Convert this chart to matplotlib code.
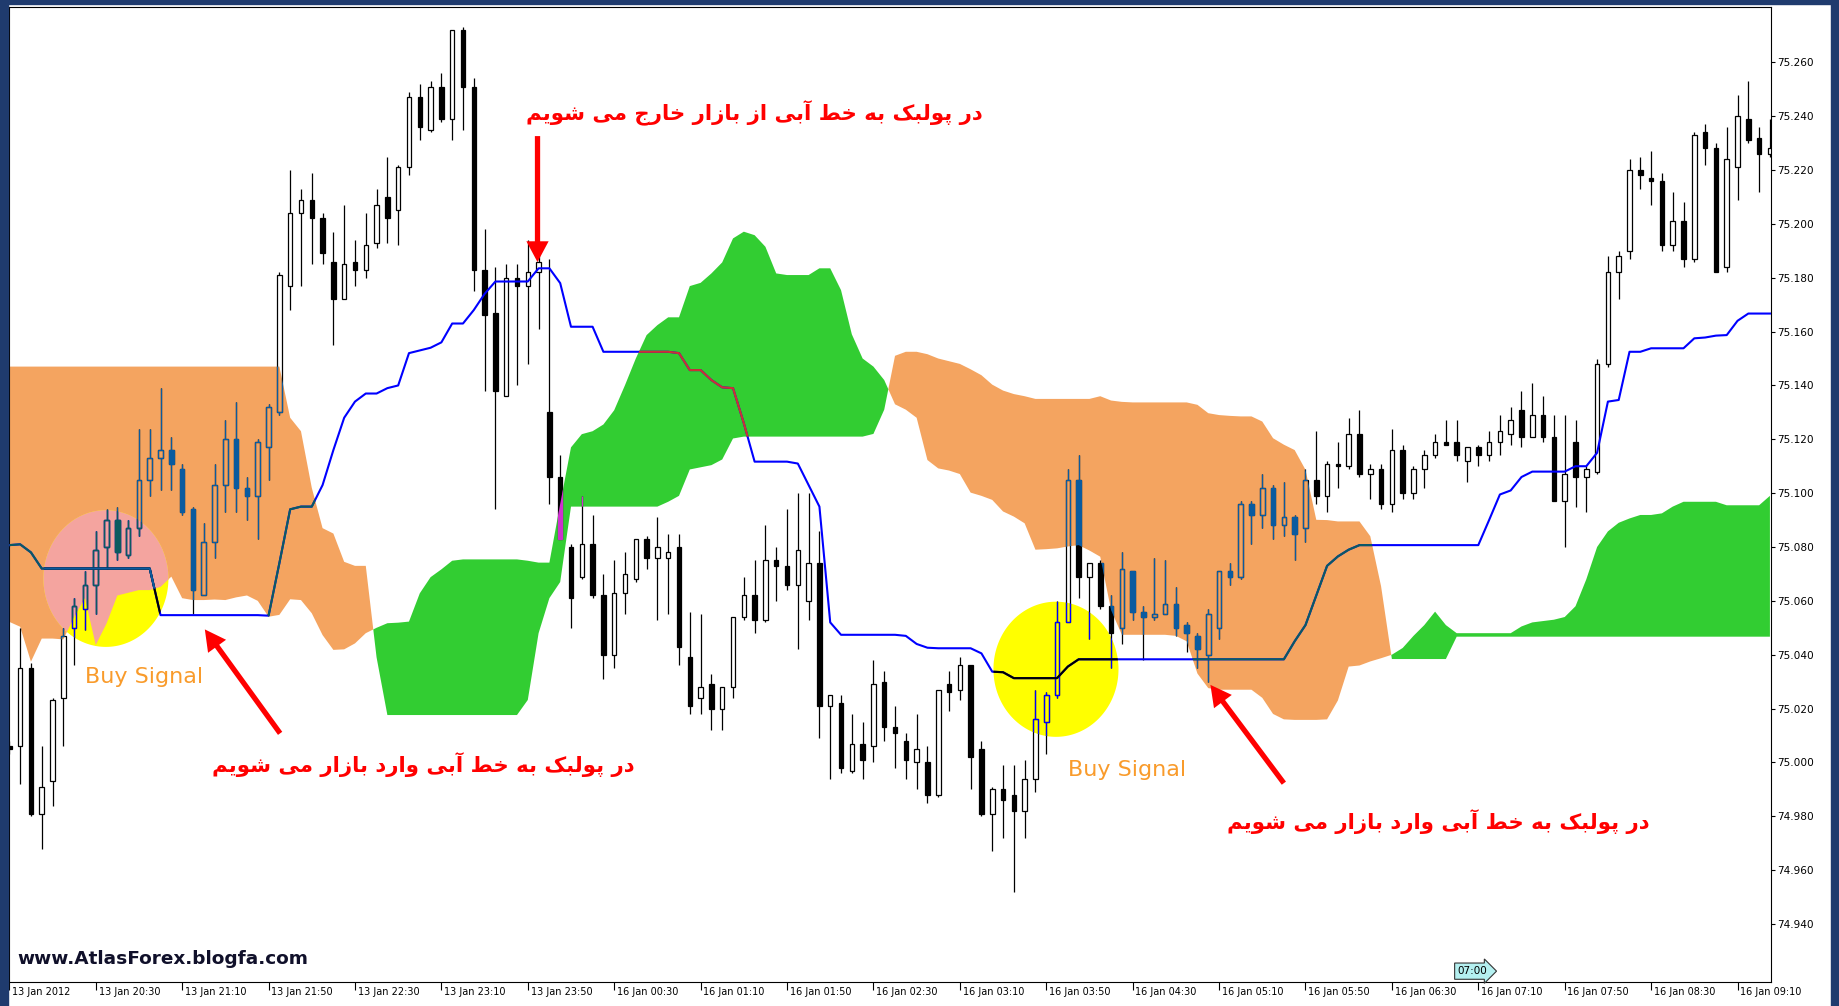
import numpy as np
import matplotlib
matplotlib.use("Agg")
import matplotlib.pyplot as plt
from matplotlib.path import Path
from matplotlib.patches import PathPatch, Rectangle, FancyArrowPatch
from matplotlib.transforms import ScaledTranslation, blended_transform_factory

plt.rcParams["font.family"] = ["DejaVu Sans"]

# M5 bars, 13 Jan 2012 19:50 -> 16 Jan 2012 09:25
OPEN = [
    75.006, 75.006, 75.035, 74.981, 74.993, 75.024, 75.050, 75.057, 75.066, 75.080,
    75.090, 75.077, 75.087, 75.105, 75.113, 75.116, 75.109, 75.094, 75.062, 75.082,
    75.103, 75.120, 75.102, 75.099, 75.117, 75.130, 75.177, 75.204, 75.209, 75.202,
    75.186, 75.172, 75.186, 75.183, 75.193, 75.210, 75.205, 75.221, 75.247, 75.235,
    75.251, 75.239, 75.272, 75.251, 75.183, 75.167, 75.136, 75.180, 75.177, 75.182,
    75.130, 75.106, 75.080, 75.069, 75.081, 75.062, 75.040, 75.063, 75.068, 75.083,
    75.076, 75.076, 75.080, 75.039, 75.024, 75.029, 75.020, 75.028, 75.054, 75.062,
    75.053, 75.075, 75.073, 75.066, 75.060, 75.074, 75.021, 75.022, 74.997, 75.007,
    75.006, 75.030, 75.013, 75.008, 75.000, 75.000, 74.988, 75.029, 75.027, 75.036,
    75.005, 74.981, 74.990, 74.988, 74.982, 74.994, 75.015, 75.025, 75.052, 75.105,
    75.069, 75.074, 75.058, 75.050, 75.071, 75.056, 75.054, 75.055, 75.059, 75.051,
    75.047, 75.040, 75.050, 75.071, 75.069, 75.096, 75.092, 75.102, 75.088, 75.091,
    75.087, 75.105, 75.099, 75.111, 75.110, 75.122, 75.107, 75.109, 75.096, 75.116,
    75.100, 75.109, 75.114, 75.119, 75.119, 75.112, 75.117, 75.114, 75.119, 75.122,
    75.131, 75.121, 75.129, 75.121, 75.097, 75.119, 75.106, 75.108, 75.148, 75.182,
    75.190, 75.220, 75.217, 75.216, 75.192, 75.201, 75.187, 75.234, 75.228, 75.184,
    75.221, 75.239, 75.232, 75.226,
]
HIGH = [
    75.008, 75.050, 75.037, 75.006, 75.024, 75.050, 75.061, 75.071, 75.086, 75.094,
    75.095, 75.090, 75.124, 75.124, 75.139, 75.121, 75.111, 75.095, 75.089, 75.111,
    75.127, 75.134, 75.106, 75.120, 75.133, 75.182, 75.220, 75.213, 75.219, 75.204,
    75.197, 75.207, 75.194, 75.204, 75.213, 75.225, 75.222, 75.249, 75.252, 75.253,
    75.256, 75.272, 75.273, 75.254, 75.198, 75.184, 75.185, 75.185, 75.194, 75.193,
    75.187, 75.114, 75.081, 75.099, 75.092, 75.070, 75.075, 75.078, 75.083, 75.084,
    75.091, 75.085, 75.085, 75.056, 75.055, 75.033, 75.028, 75.054, 75.069, 75.075,
    75.088, 75.080, 75.094, 75.100, 75.100, 75.086, 75.025, 75.025, 75.018, 75.015,
    75.038, 75.034, 75.021, 75.011, 75.018, 75.006, 75.027, 75.034, 75.039, 75.036,
    75.008, 74.991, 74.999, 74.999, 75.001, 75.027, 75.026, 75.060, 75.109, 75.114,
    75.074, 75.075, 75.062, 75.078, 75.071, 75.058, 75.076, 75.075, 75.065, 75.052,
    75.048, 75.057, 75.071, 75.074, 75.097, 75.097, 75.107, 75.103, 75.104, 75.092,
    75.109, 75.123, 75.112, 75.119, 75.128, 75.131, 75.111, 75.111, 75.124, 75.118,
    75.110, 75.116, 75.122, 75.127, 75.127, 75.117, 75.118, 75.123, 75.129, 75.132,
    75.138, 75.141, 75.136, 75.129, 75.129, 75.127, 75.110, 75.150, 75.188, 75.190,
    75.224, 75.225, 75.227, 75.219, 75.212, 75.208, 75.234, 75.237, 75.230, 75.236,
    75.248, 75.253, 75.236, 75.239,
]
LOW = [
    75.003, 74.992, 74.980, 74.968, 74.984, 75.006, 75.036, 75.049, 75.055, 75.072,
    75.075, 75.076, 75.084, 75.099, 75.101, 75.101, 75.092, 75.055, 75.062, 75.076,
    75.093, 75.093, 75.090, 75.083, 75.105, 75.129, 75.168, 75.177, 75.185, 75.185,
    75.155, 75.172, 75.177, 75.180, 75.191, 75.193, 75.192, 75.218, 75.231, 75.234,
    75.238, 75.231, 75.235, 75.175, 75.138, 75.094, 75.136, 75.140, 75.148, 75.161,
    75.096, 75.083, 75.050, 75.068, 75.061, 75.031, 75.035, 75.055, 75.067, 75.072,
    75.053, 75.055, 75.036, 75.018, 75.018, 75.012, 75.012, 75.024, 75.053, 75.048,
    75.052, 75.060, 75.064, 75.042, 75.053, 75.009, 74.994, 74.996, 74.996, 74.994,
    75.000, 75.008, 74.998, 74.994, 74.990, 74.985, 74.987, 75.019, 75.023, 74.990,
    74.980, 74.967, 74.972, 74.952, 74.972, 74.989, 75.003, 75.024, 75.052, 75.061,
    75.046, 75.057, 75.035, 75.044, 75.053, 75.038, 75.053, 75.055, 75.047, 75.041,
    75.035, 75.030, 75.046, 75.066, 75.068, 75.081, 75.087, 75.083, 75.084, 75.075,
    75.082, 75.096, 75.093, 75.102, 75.109, 75.106, 75.098, 75.094, 75.093, 75.098,
    75.098, 75.102, 75.113, 75.118, 75.112, 75.104, 75.110, 75.112, 75.114, 75.118,
    75.117, 75.121, 75.119, 75.097, 75.080, 75.095, 75.093, 75.107, 75.147, 75.172,
    75.187, 75.213, 75.207, 75.190, 75.190, 75.184, 75.186, 75.222, 75.182, 75.182,
    75.209, 75.230, 75.212, 75.225,
]
CLOSE = [
    75.005, 75.035, 74.981, 74.991, 75.023, 75.047, 75.058, 75.066, 75.079, 75.090,
    75.078, 75.087, 75.105, 75.113, 75.116, 75.111, 75.093, 75.064, 75.082, 75.103,
    75.120, 75.102, 75.099, 75.119, 75.132, 75.181, 75.204, 75.209, 75.202, 75.189,
    75.172, 75.185, 75.183, 75.192, 75.207, 75.202, 75.221, 75.247, 75.236, 75.251,
    75.239, 75.272, 75.251, 75.183, 75.166, 75.138, 75.180, 75.177, 75.182, 75.186,
    75.106, 75.083, 75.061, 75.081, 75.062, 75.040, 75.063, 75.070, 75.083, 75.076,
    75.080, 75.078, 75.043, 75.021, 75.028, 75.020, 75.028, 75.054, 75.062, 75.053,
    75.075, 75.073, 75.066, 75.079, 75.074, 75.021, 75.025, 74.998, 75.007, 75.001,
    75.029, 75.013, 75.011, 75.001, 75.005, 74.988, 75.027, 75.026, 75.036, 75.002,
    74.981, 74.990, 74.986, 74.982, 74.994, 75.016, 75.025, 75.052, 75.105, 75.069,
    75.074, 75.058, 75.048, 75.072, 75.056, 75.054, 75.055, 75.059, 75.050, 75.048,
    75.042, 75.055, 75.071, 75.069, 75.096, 75.092, 75.102, 75.088, 75.091, 75.085,
    75.105, 75.099, 75.111, 75.110, 75.122, 75.107, 75.109, 75.096, 75.116, 75.100,
    75.109, 75.114, 75.119, 75.118, 75.114, 75.117, 75.114, 75.119, 75.123, 75.127,
    75.121, 75.129, 75.121, 75.097, 75.107, 75.106, 75.109, 75.148, 75.182, 75.188,
    75.220, 75.218, 75.216, 75.192, 75.201, 75.187, 75.233, 75.228, 75.182, 75.224,
    75.240, 75.231, 75.226, 75.228,
]
KIJUN = [
    75.0807, 75.081, 75.078, 75.072, 75.072, 75.072, 75.072, 75.072, 75.072, 75.072,
    75.072, 75.072, 75.072, 75.072, 75.0547, 75.0547, 75.0547, 75.0547, 75.0547, 75.0547,
    75.0547, 75.0547, 75.0547, 75.0547, 75.0545, 75.074, 75.094, 75.095, 75.095, 75.103,
    75.116, 75.128, 75.134, 75.137, 75.137, 75.139, 75.140, 75.152, 75.153, 75.154,
    75.156, 75.163, 75.163, 75.168, 75.174, 75.1786, 75.1786, 75.1786, 75.1786, 75.1835,
    75.1835, 75.178, 75.1618, 75.1618, 75.1618, 75.1525, 75.1525, 75.1525, 75.1525, 75.1525,
    75.1525, 75.1525, 75.152, 75.1457, 75.1457, 75.142, 75.1393, 75.139, 75.126, 75.1117,
    75.1117, 75.1117, 75.1117, 75.111, 75.103, 75.095, 75.052, 75.0474, 75.0474, 75.0474,
    75.0474, 75.0474, 75.0474, 75.047, 75.044, 75.0426, 75.0424, 75.0424, 75.0424, 75.0424,
    75.0405, 75.0337, 75.0335, 75.0313, 75.0313, 75.0313, 75.0313, 75.0313, 75.0356, 75.0383,
    75.0383, 75.0383, 75.0383, 75.0383, 75.0383, 75.0383, 75.0383, 75.0383, 75.0383, 75.0383,
    75.0383, 75.0383, 75.0383, 75.0383, 75.0383, 75.0383, 75.0383, 75.0383, 75.0383, 75.045,
    75.051, 75.062, 75.073, 75.0765, 75.079, 75.0807, 75.0807, 75.0807, 75.0807, 75.0807,
    75.0807, 75.0807, 75.0807, 75.0807, 75.0807, 75.0807, 75.0807, 75.090, 75.0995, 75.101,
    75.106, 75.108, 75.108, 75.108, 75.108, 75.110, 75.110, 75.115, 75.134, 75.1346,
    75.1525, 75.1525, 75.1538, 75.1538, 75.1538, 75.1538, 75.1575, 75.1578, 75.1585, 75.1587,
    75.164, 75.1667, 75.1667, 75.1667,
]
SPAN_A = [
    75.147, 75.147, 75.147, 75.147, 75.147, 75.147, 75.147, 75.147, 75.147, 75.147,
    75.147, 75.147, 75.147, 75.147, 75.147, 75.147, 75.147, 75.147, 75.147, 75.147,
    75.147, 75.147, 75.147, 75.147, 75.147, 75.147, 75.128, 75.123, 75.102, 75.087,
    75.085, 75.0745, 75.073, 75.073, 75.039, 75.0176, 75.0176, 75.0176, 75.0176, 75.0176,
    75.0176, 75.0176, 75.0176, 75.0176, 75.0176, 75.0176, 75.0176, 75.0176, 75.0232, 75.048,
    75.061, 75.067, 75.095, 75.095, 75.095, 75.095, 75.095, 75.095, 75.095, 75.095,
    75.095, 75.0968, 75.099, 75.1088, 75.1096, 75.1104, 75.1125, 75.1203, 75.121, 75.121,
    75.121, 75.121, 75.121, 75.121, 75.121, 75.121, 75.121, 75.121, 75.121, 75.121,
    75.122, 75.131, 75.151, 75.1525, 75.1525, 75.1516, 75.150, 75.149, 75.148, 75.146,
    75.1438, 75.1403, 75.1381, 75.1368, 75.136, 75.135, 75.135, 75.135, 75.135, 75.135,
    75.135, 75.136, 75.1344, 75.1339, 75.1337, 75.1337, 75.1337, 75.1337, 75.1337, 75.1337,
    75.1328, 75.1297, 75.129, 75.1287, 75.1285, 75.1285, 75.1266, 75.1204, 75.118, 75.116,
    75.1087, 75.0901, 75.090, 75.0895, 75.0895, 75.0895, 75.084, 75.0654, 75.0384, 75.0384,
    75.0384, 75.0384, 75.0384, 75.0384, 75.0467, 75.0467, 75.0467, 75.0467, 75.0467, 75.0467,
    75.0467, 75.0467, 75.0467, 75.0467, 75.0467, 75.0467, 75.0467, 75.0467, 75.0467, 75.0467,
    75.0467, 75.0467, 75.0467, 75.0467, 75.0467, 75.0467, 75.0467, 75.0467, 75.0467, 75.0467,
    75.0467, 75.0467, 75.0467, 75.0467,
]
SPAN_B = [
    75.0522, 75.0504, 75.0374, 75.046, 75.046, 75.0457, 75.054, 75.061, 75.0436, 75.0516,
    75.062, 75.063, 75.064, 75.064, 75.0652, 75.069, 75.061, 75.0603, 75.0603, 75.0605,
    75.0603, 75.0613, 75.062, 75.060, 75.0541, 75.0548, 75.0606, 75.0603, 75.0554, 75.0473,
    75.0418, 75.0420, 75.0442, 75.0480, 75.050, 75.0517, 75.0519, 75.0523, 75.0628, 75.0688,
    75.0717, 75.0749, 75.0754, 75.0754, 75.0754, 75.0754, 75.0754, 75.0754, 75.0749, 75.0742,
    75.0742, 75.096, 75.117, 75.1219, 75.1230, 75.1255, 75.1308, 75.1401, 75.1500, 75.1587,
    75.1624, 75.1653, 75.1653, 75.1769, 75.1781, 75.1816, 75.1857, 75.1946, 75.1971, 75.1958,
    75.1915, 75.1816, 75.1810, 75.1810, 75.1810, 75.1835, 75.1835, 75.1754, 75.159, 75.150,
    75.147, 75.142, 75.133, 75.131, 75.128, 75.1123, 75.1092, 75.1084, 75.1071, 75.1002,
    75.099, 75.0975, 75.0932, 75.0913, 75.0888, 75.079, 75.0792, 75.0795, 75.0802, 75.0807,
    75.0787, 75.0764, 75.0566, 75.0474, 75.0474, 75.0474, 75.0474, 75.0474, 75.047, 75.045,
    75.033, 75.0276, 75.027, 75.027, 75.027, 75.027, 75.024, 75.018, 75.016, 75.0158,
    75.0158, 75.0158, 75.016, 75.023, 75.0356, 75.036, 75.0375, 75.0387, 75.040, 75.0425,
    75.047, 75.051, 75.056, 75.051, 75.048, 75.048, 75.048, 75.048, 75.048, 75.048,
    75.0505, 75.052, 75.0525, 75.053, 75.054, 75.058, 75.068, 75.080, 75.0858, 75.089,
    75.0906, 75.0919, 75.0919, 75.0925, 75.095, 75.0968, 75.0968, 75.0968, 75.0968, 75.0955,
    75.0955, 75.0955, 75.0955, 75.099,
]
XTICK_LABELS = [
    "13 Jan 2012", "13 Jan 20:30", "13 Jan 21:10", "13 Jan 21:50", "13 Jan 22:30",
    "13 Jan 23:10", "13 Jan 23:50", "16 Jan 00:30", "16 Jan 01:10", "16 Jan 01:50",
    "16 Jan 02:30", "16 Jan 03:10", "16 Jan 03:50", "16 Jan 04:30", "16 Jan 05:10",
    "16 Jan 05:50", "16 Jan 06:30", "16 Jan 07:10", "16 Jan 07:50", "16 Jan 08:30",
    "16 Jan 09:10",
]
YTICKS = [74.940, 74.960, 74.980, 75.000, 75.020, 75.040, 75.060, 75.080, 75.100,
          75.120, 75.140, 75.160, 75.180, 75.200, 75.220, 75.240, 75.260]

# annotations (bar index, price)
CIRCLES = [(8.94, 75.0683, 5.79, 0.0254), (96.9, 75.0346, 5.79, 0.0251)]
ARROWS = [((48.9, 75.2326), (48.9, 75.1858)),
          ((25.07, 75.0108), (18.1, 75.0494)),
          ((118.0, 74.9923), (111.2, 75.0288))]
TEXT_EXIT = "در پولبک به خط آبی از بازار خارج می شویم"
TEXT_ENTER = "در پولبک به خط آبی وارد بازار می شویم"

WHITE, BLACK, BLUE = "#ffffff", "#000000", "#0000ff"
ORANGE, GREEN, YELLOW = "#f4a460", "#32cd32", "#ffff00"
NAVY = "#1f3b6e"


def xor_color(bg, c):
    # the terminal paints the cloud in xor mode, colours flip inside it
    b = [int(bg[j:j + 2], 16) for j in (1, 3, 5)]
    v = [int(c[j:j + 2], 16) for j in (1, 3, 5)]
    return "#" + "".join("%02x" % ((255 - p) ^ q) for p, q in zip(b, v))


PINK = xor_color(ORANGE, YELLOW)

FORMS = {
    "\u0627": ("\ufe8d", "\ufe8e", None, None),
    "\u0622": ("\ufe81", "\ufe82", None, None),
    "\u0628": ("\ufe8f", "\ufe90", "\ufe91", "\ufe92"),
    "\u067e": ("\ufb56", "\ufb57", "\ufb58", "\ufb59"),
    "\u062c": ("\ufe9d", "\ufe9e", "\ufe9f", "\ufea0"),
    "\u062e": ("\ufea5", "\ufea6", "\ufea7", "\ufea8"),
    "\u062f": ("\ufea9", "\ufeaa", None, None),
    "\u0631": ("\ufead", "\ufeae", None, None),
    "\u0632": ("\ufeaf", "\ufeb0", None, None),
    "\u0634": ("\ufeb5", "\ufeb6", "\ufeb7", "\ufeb8"),
    "\u0637": ("\ufec1", "\ufec2", "\ufec3", "\ufec4"),
    "\u06a9": ("\ufb8e", "\ufb8f", "\ufb90", "\ufb91"),
    "\u0644": ("\ufedd", "\ufede", "\ufedf", "\ufee0"),
    "\u0645": ("\ufee1", "\ufee2", "\ufee3", "\ufee4"),
    "\u0647": ("\ufee9", "\ufeea", "\ufeeb", "\ufeec"),
    "\u0648": ("\ufeed", "\ufeee", None, None),
    "\u06cc": ("\ufbfc", "\ufbfd", "\ufbfe", "\ufbff"),
}


def shape_fa(s):
    s = s.replace("\u0643", "\u06a9").replace("\u064a", "\u06cc")
    out = []
    for j, ch in enumerate(s):
        if ch not in FORMS:
            out.append(ch)
            continue
        prev = s[j - 1] if j > 0 else ""
        nxt = s[j + 1] if j + 1 < len(s) else ""
        jp = prev in FORMS and FORMS[prev][2] is not None
        jn = FORMS[ch][2] is not None and nxt in FORMS
        iso, fin, ini, med = FORMS[ch]
        out.append(med if jp and jn else fin if jp else ini if jn else iso)
    return "".join(reversed(out))


def clip_to_convex(subject, clipper):
    def side(p, a, b):
        return (b[0] - a[0]) * (p[1] - a[1]) - (b[1] - a[1]) * (p[0] - a[0])

    out = [tuple(v) for v in subject]
    n = len(clipper)
    for k in range(n):
        a, b = clipper[k], clipper[(k + 1) % n]
        inp, out = out, []
        if not inp:
            break
        s = inp[-1]
        for e in inp:
            ds, de = side(s, a, b), side(e, a, b)
            if de >= 0:
                if ds < 0:
                    t = ds / (ds - de)
                    out.append((s[0] + t * (e[0] - s[0]), s[1] + t * (e[1] - s[1])))
                out.append(e)
            elif ds >= 0:
                t = ds / (ds - de)
                out.append((s[0] + t * (e[0] - s[0]), s[1] + t * (e[1] - s[1])))
            s = e
    return out


o, h, l, c = map(np.array, (OPEN, HIGH, LOW, CLOSE))
a_span, b_span = np.array(SPAN_A), np.array(SPAN_B)
x = np.arange(len(OPEN))

fig = plt.figure(figsize=(18.39, 10.06), dpi=100, facecolor="white")
ax = fig.add_axes([8.8 / 1839, 24 / 1006, 1762.2 / 1839, 974.7 / 1006])
ax.set_xlim(-0.05, 163.1)
ax.set_ylim(74.91846, 75.28043)

# Ichimoku cloud
orange = ax.fill_between(x, a_span, b_span, where=a_span >= b_span, interpolate=True,
                         color=ORANGE, lw=0, zorder=1)
green = ax.fill_between(x, a_span, b_span, where=a_span < b_span, interpolate=True,
                        color=GREEN, lw=0, zorder=1)
orange_clip = Path.make_compound_path(*orange.get_paths())
green_clip = Path.make_compound_path(*green.get_paths())

# highlight circles, pink where they fall on the orange cloud
theta = np.linspace(0, 2 * np.pi, 160, endpoint=False)
ellipses = [np.column_stack([cx + rx * np.cos(theta), cy + ry * np.sin(theta)])
            for cx, cy, rx, ry in CIRCLES]
for e in ellipses:
    ax.fill(e[:, 0], e[:, 1], color=YELLOW, lw=0, zorder=1.5)
circle_clip = Path.make_compound_path(
    *[Path(np.vstack([e, e[:1]]), closed=True) for e in ellipses])
pink_paths = []
for p in orange.get_paths():
    for e in ellipses:
        pts = clip_to_convex(p.vertices, [tuple(v) for v in e])
        if len(pts) >= 3:
            pts = np.array(pts)
            pink_paths.append(Path(np.vstack([pts, pts[:1]]), closed=True))
pink_clip = Path.make_compound_path(*pink_paths)
ax.add_patch(PathPatch(pink_clip, facecolor=PINK, edgecolor="none", lw=0, zorder=1.6))


def draw_candles(color, clip, z):
    top, bot = np.maximum(o, c), np.minimum(o, c)
    up = c >= o
    arts = [ax.vlines(x, top, h, colors=color, lw=0.9, zorder=z),
            ax.vlines(x, l, bot, colors=color, lw=0.9, zorder=z)]
    arts += list(ax.bar(x[up], (top - bot)[up], bottom=bot[up], width=0.42, fill=False,
                        edgecolor=color, lw=0.9, zorder=z))
    arts += list(ax.bar(x[~up], (top - bot)[~up], bottom=bot[~up], width=0.42,
                        color=color, edgecolor=color, lw=0.9, zorder=z))
    if clip is not None:
        for art in arts:
            art.set_clip_path(clip, ax.transData)


regions = [(None, WHITE), (orange_clip, ORANGE), (green_clip, GREEN),
           (circle_clip, YELLOW), (pink_clip, PINK)]
for k, (clip, bg) in enumerate(regions):
    draw_candles(xor_color(bg, BLACK), clip, 3 + 0.01 * k)
    line, = ax.plot(x, KIJUN, color=xor_color(bg, BLUE), lw=1.5, zorder=4 + 0.01 * k)
    if clip is not None:
        line.set_clip_path(clip, ax.transData)

# arrows and notes
for tail, tip in ARROWS:
    ax.add_patch(FancyArrowPatch(tail, tip, arrowstyle="simple,head_length=0.75,head_width=0.8,tail_width=0.19",
                                 mutation_scale=20, color="#ff0000", lw=0, shrinkA=0, shrinkB=0, zorder=6))
note = dict(color="#ff0000", fontsize=15.3, fontweight="bold", ha="center", va="center", zorder=7)
ax.text(68.95, 75.2412, shape_fa(TEXT_EXIT), **note)
ax.text(38.3, 74.9991, shape_fa(TEXT_ENTER), **note)
ax.text(132.3, 74.9780, shape_fa(TEXT_ENTER), **note)
ax.text(12.43, 75.0317, "Buy Signal", color="#f99b2b", fontsize=16,
        ha="center", va="center", zorder=7)
ax.text(103.5, 74.9972, "Buy Signal", color="#f99b2b", fontsize=16,
        ha="center", va="center", zorder=7)

ax.text(0.0047, 0.0236, "www.AtlasForex.blogfa.com", transform=ax.transAxes,
        fontsize=13.3, fontweight="bold", color="#10102a", ha="left", va="center", zorder=7)
ax.text(134.1, 0.006, "07:00", transform=blended_transform_factory(ax.transData, ax.transAxes),
        fontsize=7.5, ha="left", va="bottom", zorder=7,
        bbox=dict(boxstyle="rarrow,pad=0.3", fc="#b4f0f0", ec="#333333", lw=0.8))

# axes in terminal style
for sp in ax.spines.values():
    sp.set_color("black")
    sp.set_linewidth(0.8)
ax.yaxis.tick_right()
ax.set_yticks(YTICKS)
ax.set_yticklabels([f"{v:.3f}" for v in YTICKS])
ax.tick_params(axis="y", length=3, width=0.8, pad=1.5, labelsize=7.6)
ax.set_xticks(np.arange(0, 161, 8))
ax.set_xticklabels(XTICK_LABELS, ha="left")
ax.tick_params(axis="x", length=5.5, width=0.8, pad=-2, labelsize=7)
shift = ScaledTranslation(2 / 72, 0, fig.dpi_scale_trans)
for lab in ax.get_xticklabels():
    lab.set_transform(lab.get_transform() + shift)

fig.add_artist(Rectangle((0, 0), 8 / 1839, 1, transform=fig.transFigure, color=NAVY, zorder=10))
fig.add_artist(Rectangle((1831 / 1839, 0), 8 / 1839, 1, transform=fig.transFigure, color=NAVY, zorder=10))
fig.add_artist(Rectangle((0, 1 - 4 / 1006), 1, 4 / 1006, transform=fig.transFigure, color=NAVY, zorder=10))

fig.savefig("out.png", dpi=100)
